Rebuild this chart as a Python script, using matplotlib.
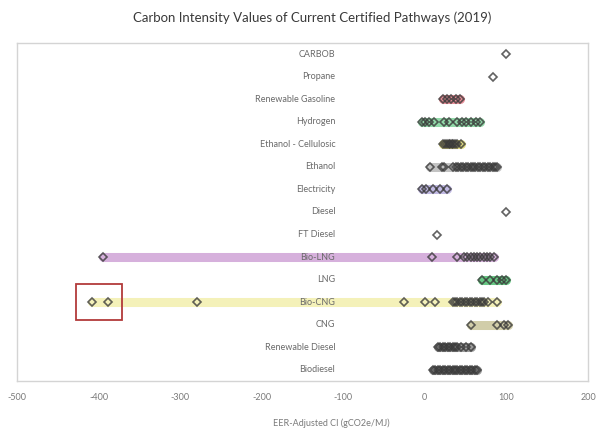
import matplotlib
matplotlib.use("Agg")
import matplotlib.pyplot as plt
from matplotlib.patches import Rectangle

plt.rcParams['font.family'] = ['Lato', 'DejaVu Sans']

# ---- data ----
categories = ["CARBOB", "Propane", "Renewable Gasoline", "Hydrogen",
              "Ethanol - Cellulosic", "Ethanol", "Electricity", "Diesel",
              "FT Diesel", "Bio-LNG", "LNG", "Bio-CNG", "CNG",
              "Renewable Diesel", "Biodiesel"]

carbob = [100]
propane = [83]
renewable_gasoline = [22, 27, 32, 38, 43]
hydrogen = [-4, 0, 5, 11, 23, 29, 39, 45, 51, 57, 63, 67]
ethanol_cellulosic = [22, 25, 27, 29, 31, 33, 35, 37, 40, 44]
ethanol = [6, 21, 24, 35, 38, 41, 44, 47, 50, 53, 56, 59, 62, 65, 68, 71,
           74, 77, 80, 83, 86, 89]
electricity = [-3, 1, 10, 19, 27]
diesel = [100]
ft_diesel = [15]
bio_lng = [-395, 9, 39, 48, 52, 56, 60, 64, 68, 72, 76, 80, 85]
lng = [70, 80, 88, 94, 100]
bio_cng = [-408, -389, -279, -25, 0, 13, 34, 37, 40, 43, 46, 49, 52, 55,
           58, 61, 64, 67, 70, 73, 77, 89]
cng = [57, 88, 97, 102]
renewable_diesel = [16, 19, 22, 25, 28, 31, 34, 37, 40, 44, 51, 57]
biodiesel = [10, 13, 16, 19, 22, 25, 28, 31, 34, 37, 40, 43, 46, 49, 52,
             55, 58, 61, 64]

series = [carbob, propane, renewable_gasoline, hydrogen, ethanol_cellulosic,
          ethanol, electricity, diesel, ft_diesel, bio_lng, lng, bio_cng, cng,
          renewable_diesel, biodiesel]

bar_colors = [None, None, "#e57a86", "#7fd39a", "#d9d36a", "#b9b9b9",
              "#b7addf", None, None, "#cfa2d6", "#4cbf6e", "#f3efad",
              "#c9c59a", "#8a8a8a", "#8a8a8a"]

highlight_category = "Bio-CNG"
highlight_x = [-428, -371]

xticks = [-500, -400, -300, -200, -100, 0, 100, 200]

# ---- figure ----
fig = plt.figure(figsize=(5.97, 4.28), dpi=100)
ax = fig.add_axes([17 / 597, 47 / 428, 571 / 597, 338 / 428])

n = len(categories)
for i, (cat, vals, col) in enumerate(zip(categories, series, bar_colors)):
    y = n - 1 - i
    if col is not None and len(vals) > 1:
        ax.plot([min(vals), max(vals)], [y, y], color=col, lw=6.5,
                alpha=0.85, solid_capstyle='round', zorder=2)
    ax.plot(vals, [y] * len(vals), linestyle='none', marker='D', ms=4.2,
            mfc='none', mec='#3a3a3a', mew=1.2, alpha=0.8, zorder=3)
    ax.text(-110, y, cat, ha='right', va='center', fontsize=6.5,
            color='#6a6a6a', zorder=4)

hy = n - 1 - categories.index(highlight_category)
ax.add_patch(Rectangle((highlight_x[0], hy - 0.78),
                       highlight_x[1] - highlight_x[0], 1.58,
                       fill=False, edgecolor='#b23a3a', lw=1.3, zorder=5))

ax.set_xlim(-500, 200)
ax.set_ylim(-0.5, n - 0.5)
ax.set_xticks(xticks)
ax.set_xticklabels([str(t) for t in xticks], fontsize=6.5, color='#7a7a7a')
ax.tick_params(axis='x', length=0, pad=9)
ax.set_yticks([])
for s in ax.spines.values():
    s.set_color('#d4d4d4')
    s.set_linewidth(1.0)

fig.text(312 / 597, 1 - 18 / 428,
         "Carbon Intensity Values of Current Certified Pathways (2019)",
         ha='center', va='center', fontsize=9.5, color='#3a3a3a')
fig.text(331 / 597, 1 - 423 / 428, "EER-Adjusted CI (gCO2e/MJ)",
         ha='center', va='center', fontsize=6.5, color='#7a7a7a')

fig.savefig("out.png", dpi=100)
